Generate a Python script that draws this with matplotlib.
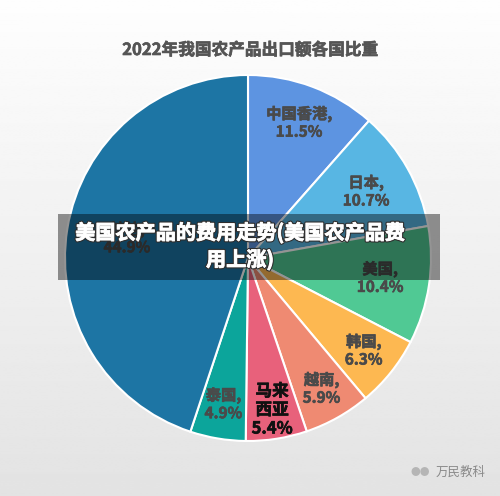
import numpy as np
import matplotlib.pyplot as plt
from matplotlib.patches import Rectangle
import matplotlib.patheffects as pe

plt.rcParams['font.family'] = ['Noto Sans CJK SC', 'DejaVu Sans']

countries = ["中国香港", "日本", "美国", "韩国", "越南", "马来\n西亚", "泰国", "其他"]
shares = [11.5, 10.7, 10.4, 6.3, 5.9, 5.4, 4.9, 44.9]
colors = ["#5d94e1", "#58b6e3", "#50c994", "#fdb851", "#ef8a72", "#e8617b", "#0ca59b", "#1d75a4"]
label_dist = [0.79, 0.74, 0.73, 0.81, 0.82, 0.84, 0.81, 0.67]
title = "2022年我国农产品出口额各国比重"
banner = "美国农产品的费用走势(美国农产品费\n用上涨)"


def bold(color, lw=0.45):
    # fake a heavier weight with a thin stroke of the same colour
    return [pe.withStroke(linewidth=lw, foreground=color)]


W, H = 500, 496
fig = plt.figure(figsize=(W / 100, H / 100), dpi=100)

# background gradient
bg = fig.add_axes([0, 0, 1, 1])
grad = np.linspace(0.995, 0.89, 256).reshape(-1, 1)
bg.imshow(grad, aspect="auto", cmap="gray", vmin=0, vmax=1, extent=[0, 1, 0, 1])
bg.axis("off")

cx, cy, r = 248, 258, 183
ax = fig.add_axes([(cx - r) / W, (H - cy - r) / H, 2 * r / W, 2 * r / H])
wedges, _ = ax.pie(shares, colors=colors, startangle=90, counterclock=False,
                   wedgeprops=dict(edgecolor="white", linewidth=1.5))
ax.set_xlim(-1, 1)
ax.set_ylim(-1, 1)
ax.set_aspect("equal")
ax.axis("off")

for w, name, val, d in zip(wedges, countries, shares, label_dist):
    ang = np.deg2rad((w.theta1 + w.theta2) / 2)
    x, y = d * np.cos(ang), d * np.sin(ang)
    if "\n" in name:
        ax.text(x, y, f"{name}\n{val}%", ha="center", va="center",
                fontsize=12, fontweight="bold", color="#111111", linespacing=1.05,
                path_effects=bold("#111111"))
    else:
        ax.text(x, y, f"{name},\n{val}%", ha="center", va="center",
                fontsize=11, fontweight="bold", color="#4a4a4a", linespacing=1.1,
                path_effects=bold("#4a4a4a"))

fig.text(0.5, 1 - 50 / H, title, ha="center", va="center",
         fontsize=12, fontweight="bold", color="#555555", path_effects=bold("#555555"))

# overlay banner
fig.patches.append(Rectangle((58 / W, 1 - 280 / H), (440 - 58) / W, 66 / H,
                             transform=fig.transFigure, facecolor="black",
                             alpha=0.42, edgecolor="none", zorder=5))
fig.text(240 / W, 1 - 246 / H, banner, ha="center", va="center",
         fontsize=14.5, fontweight="bold", color="white", linespacing=1.3, zorder=6,
         path_effects=[pe.Stroke(linewidth=2.2, foreground="#2e2e2e"),
                       pe.Stroke(linewidth=0.6, foreground="white"),
                       pe.Normal()])

# watermark
fig.text(420 / W, 1 - 472 / H, "●●", ha="center", va="center",
         fontsize=7, color="#b5b5b5")
fig.text(436 / W, 1 - 472 / H, "万民教科", ha="left", va="center",
         fontsize=9, color="#8a8a8a", style="italic")

fig.savefig("out.png", dpi=100)
